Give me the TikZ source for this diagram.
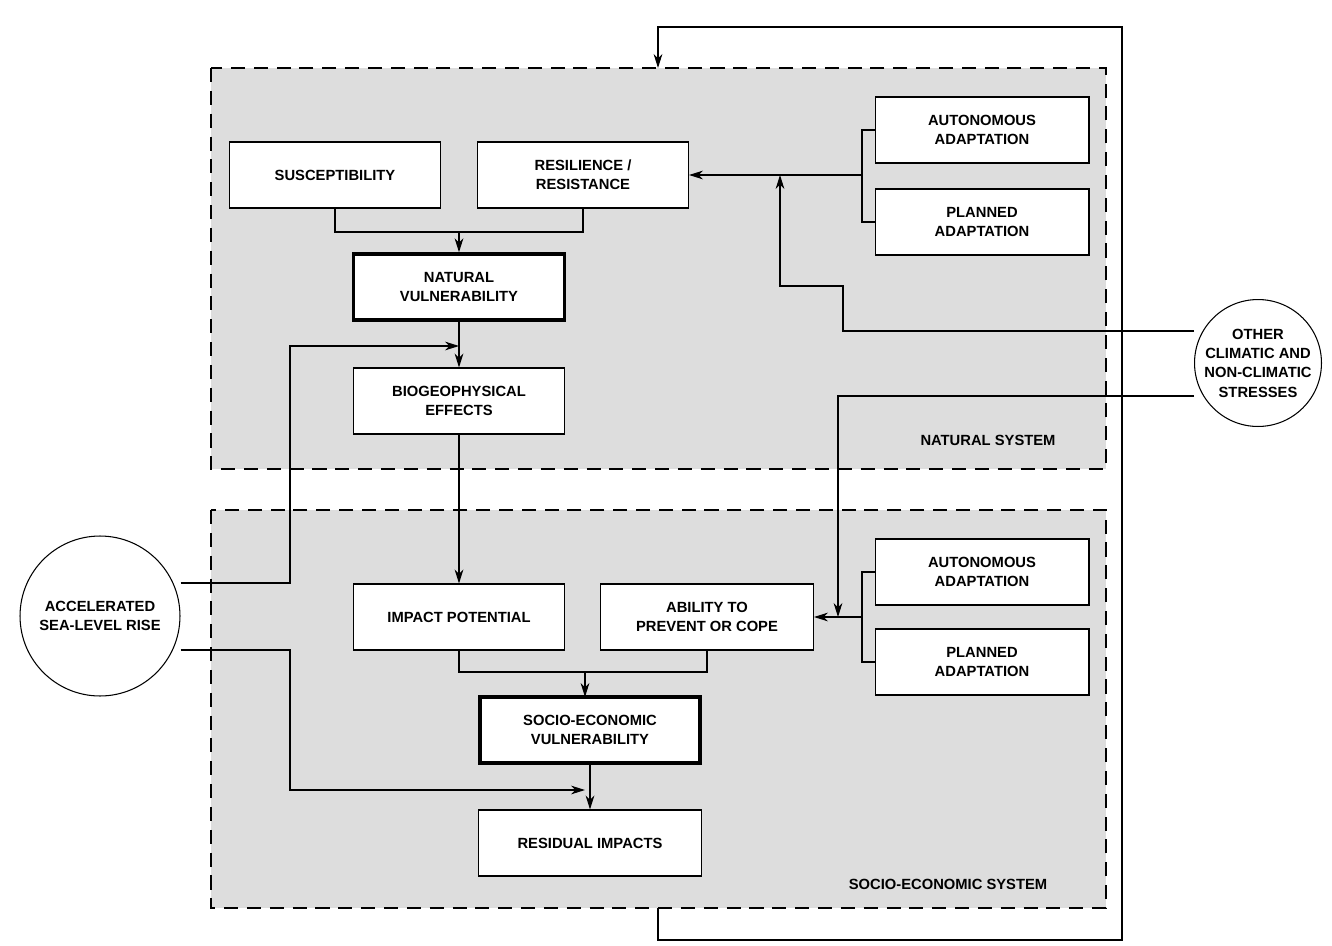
\documentclass[tikz,border=0pt]{standalone}
\usepackage{fontspec}
\setmainfont{Liberation Sans}
\usetikzlibrary{arrows, arrows.meta, positioning}
\definecolor{sysgray}{RGB}{221,221,221}
\begin{document}
\begin{tikzpicture}[x=0.02cm, y=-0.02cm, ->, >={Stealth[length=8pt, width=5pt]}, line width=0.6pt, font=\fontsize{8.4}{11}\selectfont\bfseries]
    \tikzstyle{box} = [draw, fill=white, text centered, align=center, minimum width=4.22cm, minimum height=1.32cm, inner sep=1pt]
    \tikzstyle{key} = [box, line width=2pt]
    \tikzstyle{stress} = [draw, circle, fill=white, align=center, inner sep=0pt]
    \tikzstyle{system} = [draw, dash pattern=on 8pt off 5pt, fill=sysgray, line width=0.9pt]
    \useasboundingbox (0,0) rectangle (1332,946);
    % the two systems
    \path[system, -] (211,68) rectangle (1106,469);
    \path[system, -] (211,510) rectangle (1106,908);
    \node at (988,440) {NATURAL SYSTEM};
    \node at (948,884) {SOCIO-ECONOMIC SYSTEM};
    % natural system
    \node [box] at (335,175) (suscept) {SUSCEPTIBILITY};
    \node [box] at (583,175) (resil) {RESILIENCE /\\RESISTANCE};
    \node [box, minimum width=4.28cm] at (982,130) (autonat) {AUTONOMOUS\\ADAPTATION};
    \node [box, minimum width=4.28cm] at (982,222) (plannat) {PLANNED\\ADAPTATION};
    \node [key] at (459,287) (natvul) {NATURAL\\VULNERABILITY};
    \node [box] at (459,401) (biogeo) {BIOGEOPHYSICAL\\EFFECTS};
    % socio-economic system
    \node [box, minimum width=4.28cm] at (982,572) (autosoc) {AUTONOMOUS\\ADAPTATION};
    \node [box, minimum width=4.28cm] at (982,662) (plansoc) {PLANNED\\ADAPTATION};
    \node [box] at (459,617) (impact) {IMPACT POTENTIAL};
    \node [box, minimum width=4.26cm] at (707,617) (cope) {ABILITY TO\\PREVENT OR COPE};
    \node [key, minimum width=4.4cm] at (590,730) (socvul) {SOCIO-ECONOMIC\\VULNERABILITY};
    \node [box, minimum width=4.46cm] at (590,843) (residual) {RESIDUAL IMPACTS};
    % stresses
    \node [stress, minimum size=2.48cm] at (1258,363) (other) {OTHER\\CLIMATIC AND\\NON-CLIMATIC\\STRESSES};
    \node [stress, minimum size=3.2cm] at (100,616) (slr) {ACCELERATED\\SEA-LEVEL RISE};
    % natural system links
    \draw[-] (suscept.south) -- (335,232) -- (583,232) -- (resil.south);
    \draw (459,232) -- (natvul.north);
    \draw[-] (autonat.west) -- (862,130) -- (862,222) -- (plannat.west);
    \draw (resil.east -| 862,0) -- (resil.east);
    \draw (other.west |- 0,331) -- (843,331) -- (843,286) -- (780,286) -- (resil.east -| 780,0);
    \draw (natvul.south) -- (biogeo.north);
    \draw (slr.east |- 0,583) -- (290,583) -- (290,346) -- (459,346);
    % socio-economic system links
    \draw (biogeo.south) -- (impact.north);
    \draw[-] (autosoc.west) -- (862,572) -- (862,662) -- (plansoc.west);
    \draw (cope.east -| 862,0) -- (cope.east);
    \draw (other.west |- 0,396) -- (838,396) -- (cope.east -| 838,0);
    \draw[-] (impact.south) -- (459,672) -- (cope.south |- 0,672) -- (cope.south);
    \draw (585,672) -- (585,697);
    \draw (slr.east |- 0,650) -- (290,650) -- (290,790) -- (585,790);
    \draw (socvul.south) -- (residual.north);
    % feedback
    \coordinate (fbout) at (658,908);
    \coordinate (fbin) at (658,68);
    \draw (fbout) -- (658,940) -- (1122,940) -- (1122,27) -- (658,27) -- (fbin);
\end{tikzpicture}
\end{document}
